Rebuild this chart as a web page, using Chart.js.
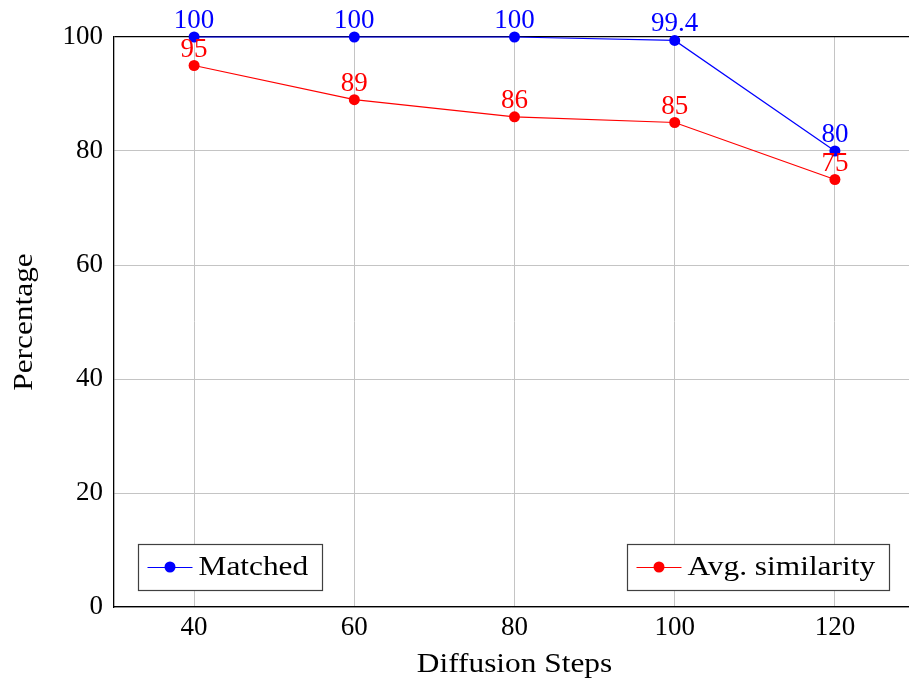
<!DOCTYPE html>
<html>
<head>
<meta charset="utf-8">
<script src="https://cdn.jsdelivr.net/npm/chart.js@4"></script>
<style>
html,body{margin:0;padding:0;background:#fff;}
#wrap{width:909px;height:688px;position:relative;}
</style>
</head>
<body>
<div id="wrap"><canvas id="c" width="909" height="688"></canvas></div>
<script>
const steps = [40, 60, 80, 100, 120];
const matched = [100, 100, 100, 99.4, 80];
const avgSimilarity = [95, 89, 86, 85, 75];
const matchedLabels = ["100", "100", "100", "99.4", "80"];
const avgLabels = ["95", "89", "86", "85", "75"];
const yTicks = [0, 20, 40, 60, 80, 100];
const xTitle = 'Diffusion Steps';
const yTitle = 'Percentage';

const FONT = '"Liberation Serif", "Times New Roman", serif';
const FS = 27;      // numbers
const TFS = 28;     // words
const STRETCH = 1.12;

function wideText(ctx, text, x, y, align) {
  ctx.save();
  ctx.font = TFS + 'px ' + FONT;
  const w = ctx.measureText(text).width * STRETCH;
  let sx = x;
  if (align === 'center') sx = x - w / 2;
  else if (align === 'right') sx = x - w;
  ctx.translate(sx, y);
  ctx.scale(STRETCH, 1);
  ctx.textAlign = 'left';
  ctx.fillText(text, 0, 0);
  ctx.restore();
}

const valueLabels = {
  id: 'valueLabels',
  afterDatasetsDraw(chart) {
    const ctx = chart.ctx;
    ctx.save();
    ctx.font = FS + 'px ' + FONT;
    ctx.textAlign = 'center';
    ctx.textBaseline = 'alphabetic';
    chart.data.datasets.forEach((ds, i) => {
      const meta = chart.getDatasetMeta(i);
      ctx.fillStyle = ds.borderColor;
      meta.data.forEach((pt, j) => {
        ctx.fillText(ds.valueText[j], pt.x, pt.y - 9);
      });
    });
    ctx.restore();
  }
};

const axisTitles = {
  id: 'axisTitles',
  afterDraw(chart) {
    const ctx = chart.ctx;
    const ca = chart.chartArea;
    ctx.save();
    ctx.fillStyle = '#000';
    ctx.textBaseline = 'middle';
    wideText(ctx, xTitle, chart.scales.x.getPixelForValue(80), 665, 'center');
    ctx.save();
    ctx.translate(25, (ca.top + ca.bottom) / 2);
    ctx.rotate(-Math.PI / 2);
    wideText(ctx, yTitle, 0, 0, 'center');
    ctx.restore();
    ctx.restore();
  }
};

const twoLegends = {
  id: 'twoLegends',
  afterDraw(chart) {
    const ctx = chart.ctx;
    ctx.save();
    const boxes = [
      {ds: chart.data.datasets[0], left: 138.5, right: 322.5},
      {ds: chart.data.datasets[1], left: 627.5, right: 889.5}
    ];
    const top = 544.5, bottom = 590.5, cy = 567;
    boxes.forEach(b => {
      ctx.fillStyle = '#fff';
      ctx.fillRect(b.left, top, b.right - b.left, bottom - top);
      ctx.strokeStyle = '#404040';
      ctx.lineWidth = 1.2;
      ctx.strokeRect(b.left, top, b.right - b.left, bottom - top);
      const lx = b.left + 9;
      ctx.strokeStyle = b.ds.borderColor;
      ctx.lineWidth = 1;
      ctx.beginPath();
      ctx.moveTo(lx, cy + 0.5);
      ctx.lineTo(lx + 45, cy + 0.5);
      ctx.stroke();
      ctx.fillStyle = b.ds.borderColor;
      ctx.beginPath();
      ctx.arc(lx + 22.5, cy, 5.5, 0, Math.PI * 2);
      ctx.fill();
      ctx.fillStyle = '#000';
      ctx.textBaseline = 'middle';
      wideText(ctx, b.ds.label, lx + 51, cy + 1, 'left');
    });
    ctx.restore();
  }
};

new Chart(document.getElementById('c'), {
  type: 'line',
  data: {
    datasets: [
      {
        label: 'Matched',
        data: steps.map((x, i) => ({x: x, y: matched[i]})),
        valueText: matchedLabels,
        borderColor: '#0000ff',
        backgroundColor: '#0000ff',
        pointBackgroundColor: '#0000ff',
        pointBorderWidth: 0,
        pointRadius: 5.5,
        borderWidth: 1.2,
        tension: 0,
        clip: false
      },
      {
        label: 'Avg. similarity',
        data: steps.map((x, i) => ({x: x, y: avgSimilarity[i]})),
        valueText: avgLabels,
        borderColor: '#ff0000',
        backgroundColor: '#ff0000',
        pointBackgroundColor: '#ff0000',
        pointBorderWidth: 0,
        pointRadius: 5.5,
        borderWidth: 1.2,
        tension: 0,
        clip: false
      }
    ]
  },
  options: {
    responsive: false,
    animation: false,
    events: [],
    layout: {autoPadding: false, padding: {top: 37, right: 0, left: 0, bottom: 0}},
    plugins: {legend: {display: false}, tooltip: {enabled: false}},
    scales: {
      x: {
        type: 'linear',
        min: 30,
        max: 129.25,
        afterBuildTicks(scale) { scale.ticks = steps.map(v => ({value: v})); },
        afterFit(scale) { scale.height = 81; scale.paddingLeft = 0; scale.paddingRight = 0; },
        ticks: {
          font: {family: FONT, size: FS},
          color: '#000',
          padding: 5,
          maxRotation: 0,
          callback: v => String(v)
        },
        grid: {color: '#c4c4c4', lineWidth: 1, drawTicks: false},
        border: {color: '#000', width: 1.3}
      },
      y: {
        type: 'linear',
        min: 0,
        max: 100,
        afterBuildTicks(scale) { scale.ticks = yTicks.map(v => ({value: v})); },
        afterFit(scale) { scale.width = 114; scale.paddingTop = 0; scale.paddingBottom = 0; },
        ticks: {
          font: {family: FONT, size: FS},
          color: '#000',
          padding: 11
        },
        grid: {
          color: ctx => (ctx.tick && ctx.tick.value === 100) ? '#000' : '#c4c4c4',
          lineWidth: ctx => (ctx.tick && ctx.tick.value === 100) ? 1.3 : 1,
          drawTicks: false
        },
        border: {color: '#000', width: 1.3}
      }
    }
  },
  plugins: [valueLabels, axisTitles, twoLegends]
});
</script>
</body>
</html>
